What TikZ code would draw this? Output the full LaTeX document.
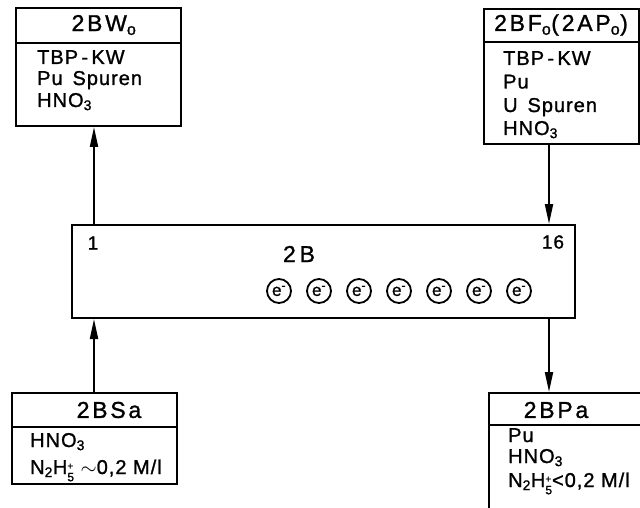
\documentclass[tikz,border=0pt]{standalone}
\usepackage{fontspec}
\setmainfont{Liberation Sans}[LetterSpace=5,FakeBold=1.2]
\newfontfamily\hdfont{Liberation Sans}[LetterSpace=12,FakeBold=1.2]
\usetikzlibrary{arrows.meta}
\newcommand{\subsupplus}[1]{\raisebox{-0.36em}{\shortstack[l]{\fontsize{10}{10}\selectfont+\\[0.6pt]\fontsize{12}{12}\selectfont#1}}}
\tikzset{
  box/.style={draw, line width=2pt, inner sep=0pt, anchor=north west},
  divline/.style={line width=1.8pt},
  hd/.style={font=\hdfont\fontsize{23}{24}\selectfont, inner sep=0pt},
  body/.style={font=\fontsize{20}{22}\selectfont, inner sep=0pt, anchor=base west},
  small/.style={font=\fontsize{19}{20}\selectfont, inner sep=0pt},
  flow/.style={line width=2pt, -{Triangle[length=20pt,width=8pt]}},
  elec/.style={draw, circle, line width=1.8pt, minimum size=24pt, inner sep=0pt,
    font=\fontsize{17}{17}\selectfont}
}
\begin{document}
\begin{tikzpicture}[x=1pt,y=-1pt]
\useasboundingbox (0,0) rectangle (640,508);
% boxes
\node[box, minimum width=165pt, minimum height=118pt] (bw) at (15,7) {};
\node[box, minimum width=155pt, minimum height=135pt] (bf) at (483,8) {};
\node[box, minimum width=503pt, minimum height=93pt] (main) at (71,224) {};
\node[box, minimum width=165pt, minimum height=91pt] (bs) at (11,392) {};
\node[box, minimum width=172pt, minimum height=140pt] (bp) at (488,392) {};
% coordinates
\coordinate (lx) at (94,0);
\coordinate (rx) at (549,0);
\coordinate (d1) at (0,43);
\coordinate (d2) at (0,42);
\coordinate (d3) at (0,427);
\coordinate (d4) at (0,425);
% dividers
\draw[divline] (bw.west |- d1) -- (bw.east |- d1);
\draw[divline] (bf.west |- d2) -- (bf.east |- d2);
\draw[divline] (bs.west |- d3) -- (bs.east |- d3);
\draw[divline] (bp.west |- d4) -- (bp.east |- d4);
% headers
\node[hd] (hbw) at (104,25) {2BW\textsubscript{o}};
\node[hd] (hbf) at (561,25) {2BF\textsubscript{o}(2AP\textsubscript{o})};
\node[hd] (hbs) at (109,410) {2BSa};
\node[hd] (hbp) at (556,410) {2BPa};
% body texts
\node[body] (t1) at (37,64) {TBP\,-\,KW};
\node[body] (t2) at (37,85) {Pu\, Spuren};
\node[body] (t3) at (37,107) {HNO\textsubscript{3}};
\node[body] (u1) at (503,65) {TBP\,-\,KW};
\node[body] (u2) at (503,88.5) {Pu};
\node[body] (u3) at (503,112) {U\, Spuren};
\node[body] (u4) at (503,135) {HNO\textsubscript{3}};
\node[body] (s1) at (30,447) {HNO\textsubscript{3}};
\node[body] (s2) at (30,474) {N\textsubscript{2}H\subsupplus{5} $\sim$0,2 M/l};
\node[body] (p1) at (508,442) {Pu};
\node[body] (p2) at (508,463) {HNO\textsubscript{3}};
\node[body] (p3) at (508,487) {N\textsubscript{2}H\subsupplus{5}<0,2 M/l};
% main box content
\node[small] (n1) at (93,243) {1};
\node[small] (n16) at (553,242) {16};
\node[hd] (m2b) at (299,254) {2\,B};
\foreach \i in {0,...,6} {
  \node[elec] (e\i) at (279+40*\i,291) {e\textsuperscript{-}};
}
% connectors
\draw[flow] (main.north -| lx) -- (bw.south -| lx);
\draw[flow] (bf.south -| rx) -- (main.north -| rx);
\draw[flow] (bs.north -| lx) -- (main.south -| lx);
\draw[flow] (main.south -| rx) -- (bp.north -| rx);
\end{tikzpicture}
\end{document}
